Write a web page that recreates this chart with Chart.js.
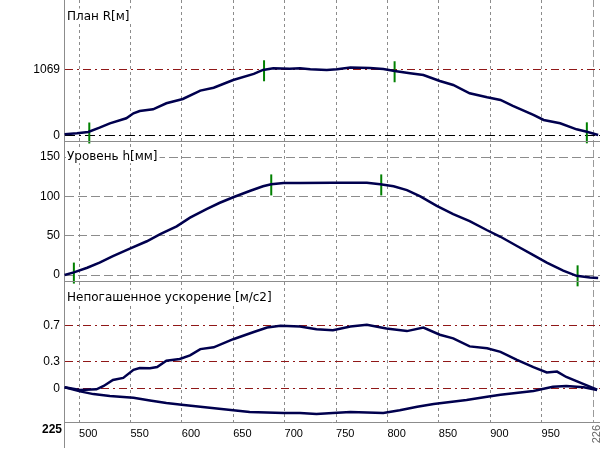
<!DOCTYPE html>
<html>
<head>
<meta charset="utf-8">
<script src="https://cdn.jsdelivr.net/npm/chart.js@4/dist/chart.umd.min.js"></script>
<style>
  html, body { margin: 0; padding: 0; background: #fff; }
  #wrap { position: relative; width: 600px; height: 450px; }
</style>
</head>
<body>
<div id="wrap"><canvas id="chart"></canvas></div>
<script>
// distance along the track, metres within km 225
const xTicks = [500, 550, 600, 650, 700, 750, 800, 850, 900, 950, 1000];

// План R[м]
const planX = [486, 498, 509, 520, 530, 546, 553, 559, 572, 585, 601, 618, 631, 650, 670, 679, 689, 705, 715, 725, 741, 751, 764, 783, 796, 807, 822, 835, 851, 864, 880, 897, 910, 922, 942, 952, 968, 984, 994, 1005];
const planR = [16, 32, 53, 123, 194, 276, 357, 394, 421, 519, 588, 723, 771, 896, 994, 1058, 1086, 1079, 1086, 1070, 1058, 1070, 1096, 1091, 1075, 1042, 1005, 977, 880, 815, 681, 616, 572, 475, 329, 248, 194, 97, 58, 5];
const planTicks = [0, 1069];
const planMarkX = [510, 680, 807, 994];
const planMarkR = [37, 1045, 1029, 40];

// Уровень h[мм]
const levelX = [486, 495, 508, 520, 533, 550, 566, 579, 595, 608, 624, 637, 650, 666, 679, 687, 699, 715, 747, 780, 793, 806, 819, 832, 848, 864, 880, 897, 910, 926, 942, 955, 971, 984, 997, 1005];
const levelH = [0, 3.4, 9.3, 15.7, 24, 34, 43, 52, 62, 73, 84, 92, 99, 107, 113, 115.4, 117, 117, 117.4, 117.4, 115.4, 113, 108, 100, 88, 77.6, 68.7, 57, 48.7, 37, 25.4, 15.7, 5.5, -1, -3, -3.8];
const levelTicks = [0, 50, 100, 150];
const levelMarkX = [495, 687, 794, 985];
const levelMarkH = [2.5, 114.7, 114.7, -1];

// Непогашенное ускорение [м/c2]
const accUpX = [486, 501, 517, 524, 533, 543, 553, 559, 569, 576, 585, 598, 608, 618, 631, 650, 670, 683, 696, 715, 731, 747, 764, 780, 799, 819, 835, 851, 864, 880, 897, 910, 926, 942, 955, 965, 974, 991, 1004];
const accUp = [0.016, -0.014, -0.007, 0.03, 0.097, 0.12, 0.21, 0.23, 0.227, 0.24, 0.31, 0.33, 0.37, 0.44, 0.46, 0.55, 0.63, 0.68, 0.70, 0.69, 0.66, 0.65, 0.69, 0.71, 0.67, 0.64, 0.68, 0.60, 0.56, 0.47, 0.45, 0.41, 0.32, 0.24, 0.18, 0.19, 0.13, 0.05, -0.01];
const accLowX = [486, 501, 514, 530, 553, 569, 585, 602, 618, 650, 666, 699, 715, 731, 747, 764, 796, 812, 829, 845, 877, 897, 910, 942, 961, 974, 991, 1004];
const accLow = [0.016, -0.03, -0.06, -0.08, -0.10, -0.13, -0.16, -0.18, -0.20, -0.24, -0.26, -0.27, -0.27, -0.28, -0.27, -0.26, -0.27, -0.24, -0.20, -0.17, -0.125, -0.09, -0.067, -0.026, 0.022, 0.03, 0.016, -0.014];
const accTicks = [0, 0.3, 0.7];

const titles = { yR: "План R[м]", yH: "Уровень h[мм]", yA: "Непогашенное ускорение [м/c2]" };

const LINE = "#00004e";
const MARK = "#008000";
const MAROON = "#901818";
const GREY = "#8c8c8c";

const pts = (xs, ys) => xs.map((x, i) => ({ x, y: ys[i] }));

function curve(xs, ys, axis) {
  return { data: pts(xs, ys), yAxisID: axis, showLine: true, borderColor: LINE,
    borderWidth: 2.5, pointRadius: 0, tension: 0 };
}
function marks(xs, ys, axis) {
  return { data: pts(xs, ys), yAxisID: axis, showLine: false, pointStyle: "line",
    rotation: 90, pointRadius: 10.5, borderColor: MARK, pointBorderWidth: 2, clip: false };
}

const dashDot = [8, 4, 2, 4];
function yScale(min, max, ticks, weight, color, dash) {
  return {
    type: "linear", min, max, stack: "panels", stackWeight: 1, weight, position: "left",
    afterBuildTicks: (s) => { s.ticks = ticks.map((v) => ({ value: v })); },
    afterFit: (s) => { s.width = 64; s.paddingTop = 0; s.paddingBottom = 0; },
    ticks: { color: "#000", padding: 4, font: { family: "Liberation Sans, Arial", size: 12 },
      callback: (v) => String(v) },
    grid: { drawTicks: false, color, lineWidth: 1 },
    border: { color: GREY, width: 1, dash },
  };
}

const decor = {
  id: "decor",
  afterDraw(chart) {
    const { ctx, chartArea, scales } = chart;
    ctx.save();
    ctx.strokeStyle = GREY;
    ctx.lineWidth = 1;
    ctx.beginPath();
    [scales.yR.bottom, scales.yH.bottom].forEach((y) => {
      ctx.moveTo(chartArea.left, Math.round(y) + 0.5);
      ctx.lineTo(chartArea.right, Math.round(y) + 0.5);
    });
    ctx.moveTo(chartArea.left + 0.5, chartArea.bottom);
    ctx.lineTo(chartArea.left + 0.5, chart.height - 2);
    ctx.stroke();

    ctx.font = "12px 'DejaVu Sans'";
    ctx.textBaseline = "alphabetic";
    Object.keys(titles).forEach((id) => {
      const t = titles[id];
      const y = scales[id].top + 19.5;
      const w = ctx.measureText(t).width;
      ctx.fillStyle = "#fff";
      ctx.fillRect(chartArea.left + 2, y - 11, w + 3, 14);
      ctx.fillStyle = "#000";
      ctx.fillText(t, chartArea.left + 3, y);
    });

    ctx.font = "bold 12px 'Liberation Sans', Arial";
    ctx.textAlign = "right";
    ctx.textBaseline = "middle";
    ctx.fillStyle = "#000";
    ctx.fillText("225", 62, 430);

    const x226 = scales.x.getPixelForValue(1000);
    ctx.translate(x226 + 4, chartArea.bottom + 3);
    ctx.rotate(-Math.PI / 2);
    ctx.textAlign = "right";
    ctx.font = "11px 'Liberation Sans', Arial";
    ctx.fillStyle = "#666";
    ctx.fillText("226", 0, 0);
    ctx.restore();
  },
};

new Chart(document.getElementById("chart"), {
  type: "scatter",
  data: {
    datasets: [
      curve(planX, planR, "yR"),
      curve(levelX, levelH, "yH"),
      curve(accUpX, accUp, "yA"),
      curve(accLowX, accLow, "yA"),
      marks(planMarkX, planMarkR, "yR"),
      marks(levelMarkX, levelMarkH, "yH"),
    ],
  },
  options: {
    responsive: true,
    maintainAspectRatio: false,
    animation: false,
    layout: { padding: 0, autoPadding: false },
    plugins: { legend: { display: false }, tooltip: { enabled: false } },
    scales: {
      x: {
        type: "linear", min: 485.4, max: 1006.8, position: "bottom",
        afterBuildTicks: (s) => { s.ticks = xTicks.map((v) => ({ value: v })); },
        afterFit: (s) => { s.height = 28; s.paddingLeft = 0; s.paddingRight = 0; },
        ticks: { color: "#000", align: "start", padding: 5, maxRotation: 0,
          font: { family: "Liberation Sans, Arial", size: 11 },
          callback: (v) => (v === 1000 ? "" : String(v)) },
        grid: { drawTicks: false, lineWidth: 1,
          color: (c) => (c.tick && c.tick.value === 1000 ? "#9a9a9a" : GREY) },
        border: { color: GREY, width: 1,
          dash: (c) => (c.tick && c.tick.value === 1000 ? [7, 3] : [3, 3]) },
      },
      yA: yScale(-0.37, 1.193, accTicks, 1, MAROON, () => dashDot),
      yH: yScale(-8, 171, levelTicks, 2, GREY, () => [9, 4]),
      yR: yScale(-87, 2191, planTicks, 3,
        (c) => (c.tick && c.tick.value === 0 ? "#000" : MAROON),
        (c) => (c.tick && c.tick.value === 0 ? [10, 4, 2, 4] : dashDot)),
    },
  },
  plugins: [decor],
});
</script>
</body>
</html>
